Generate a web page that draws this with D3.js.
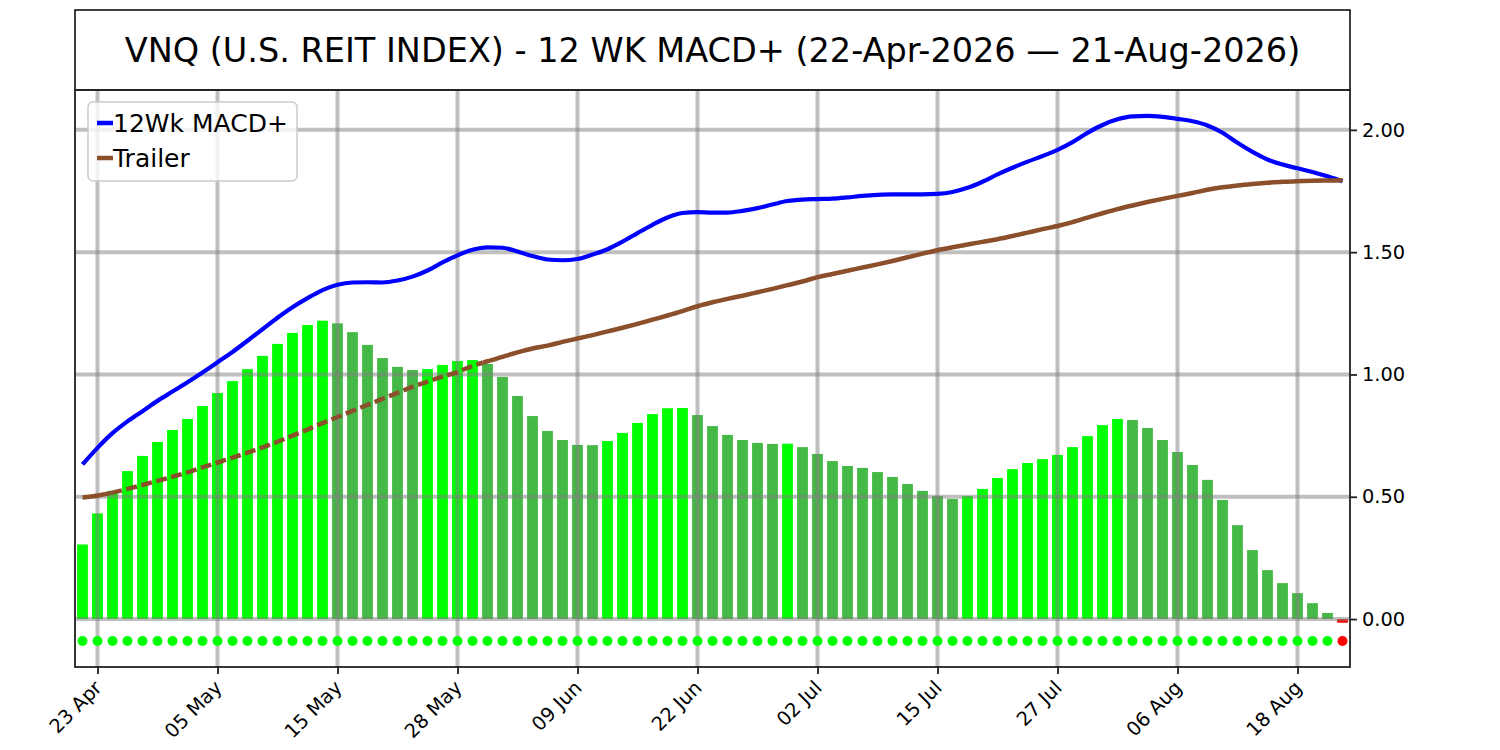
<!DOCTYPE html>
<html>
<head>
<meta charset="utf-8">
<script src="https://cdn.jsdelivr.net/npm/d3@7"></script>
<style>
    body { margin: 0; background: #fff; }
    svg { display: block; font-family: "DejaVu Sans", sans-serif; }
</style>
</head>
<body>
<svg id="chart" width="1500" height="750"></svg>
<script>
const title = "VNQ (U.S. REIT INDEX) - 12 WK MACD+ (22-Apr-2026 \u2014 21-Aug-2026)";

// bar index of each labelled trading day
const tickIdx = [1, 9, 17, 25, 33, 41, 49, 57, 65, 73, 81];
const tickLabels = ["23 Apr", "05 May", "15 May", "28 May", "09 Jun", "22 Jun",
    "02 Jul", "15 Jul", "27 Jul", "06 Aug", "18 Aug"];
const yTicks = [0, 0.5, 1.0, 1.5, 2.0];

// histogram, one bar per trading day (22 Apr .. 21 Aug)
const hist = [
    0.305, 0.432, 0.524, 0.605, 0.667, 0.724, 0.773, 0.818, 0.871, 0.924,
    0.973, 1.022, 1.076, 1.125, 1.170, 1.202, 1.220, 1.209, 1.173, 1.121,
    1.067, 1.031, 1.018, 1.022, 1.039, 1.055, 1.059, 1.043, 0.990, 0.912,
    0.830, 0.769, 0.732, 0.712, 0.711, 0.728, 0.761, 0.802, 0.838, 0.862,
    0.863, 0.834, 0.789, 0.753, 0.732, 0.720, 0.716, 0.717, 0.703, 0.675,
    0.646, 0.626, 0.618, 0.601, 0.581, 0.552, 0.524, 0.503, 0.491, 0.503,
    0.532, 0.577, 0.613, 0.638, 0.654, 0.671, 0.703, 0.748, 0.793, 0.818,
    0.814, 0.781, 0.732, 0.683, 0.630, 0.569, 0.487, 0.384, 0.282, 0.200,
    0.147, 0.106, 0.065, 0.025, -0.015
];

const macd = [
    0.632, 0.700, 0.760, 0.808, 0.850, 0.892, 0.930, 0.968, 1.008, 1.050,
    1.092, 1.138, 1.185, 1.232, 1.275, 1.312, 1.345, 1.367, 1.376, 1.377,
    1.376, 1.384, 1.400, 1.425, 1.458, 1.487, 1.510, 1.520, 1.518, 1.503,
    1.484, 1.470, 1.467, 1.472, 1.490, 1.512, 1.543, 1.578, 1.612, 1.642,
    1.660, 1.664, 1.662, 1.662, 1.669, 1.680, 1.695, 1.709, 1.715, 1.717,
    1.719, 1.724, 1.730, 1.734, 1.736, 1.736, 1.736, 1.738, 1.746, 1.763,
    1.788, 1.818, 1.845, 1.870, 1.893, 1.918, 1.950, 1.988, 2.020, 2.043,
    2.055, 2.057, 2.053, 2.045, 2.035, 2.018, 1.988, 1.947, 1.910, 1.879,
    1.858, 1.843, 1.828, 1.810, 1.790
];

const trailer = [
    0.497, 0.505, 0.517, 0.532, 0.548, 0.565, 0.582, 0.600, 0.620, 0.640,
    0.660, 0.680, 0.702, 0.725, 0.750, 0.775, 0.801, 0.826, 0.851, 0.876,
    0.900, 0.925, 0.949, 0.971, 0.991, 1.010, 1.035, 1.054, 1.072, 1.090,
    1.106, 1.118, 1.133, 1.147, 1.161, 1.176, 1.191, 1.207, 1.224, 1.241,
    1.259, 1.279, 1.295, 1.309, 1.322, 1.336, 1.350, 1.365, 1.380, 1.398,
    1.411, 1.424, 1.437, 1.450, 1.464, 1.479, 1.494, 1.508, 1.520, 1.531,
    1.542, 1.553, 1.566, 1.580, 1.594, 1.607, 1.623, 1.641, 1.659, 1.676,
    1.691, 1.705, 1.718, 1.730, 1.742, 1.755, 1.765, 1.773, 1.779, 1.784,
    1.788, 1.790, 1.792, 1.793, 1.794
];

const signalLevel = -0.09;

const plot = { left: 75, right: 1350, top: 90, bottom: 667 };

const svg = d3.select("#chart");

const x = d3.scaleLinear()
    .domain([-0.5, hist.length - 0.5])
    .range([plot.left, plot.right]);
const y = d3.scaleLinear()
    .domain([-0.196, 2.163])
    .range([plot.bottom, plot.top]);

const bright = "#00ff00", dull = "#45b945", red = "#ff0000";
const blue = "#0000ff", brown = "#8b4f2b";
function barColor(d, i) {
    if (d < 0) return red;
    if (i === 0 || d >= hist[i - 1]) return bright;
    return dull;
}

// title box
svg.append("rect")
    .attr("x", plot.left).attr("y", 10)
    .attr("width", plot.right - plot.left).attr("height", plot.top - 10)
    .attr("fill", "none").attr("stroke", "#000").attr("stroke-width", 1.5);
svg.append("text")
    .attr("x", (plot.left + plot.right) / 2).attr("y", 50)
    .attr("text-anchor", "middle").attr("dominant-baseline", "central")
    .attr("font-size", 33.5).attr("fill", "#000")
    .text(title);

const g = svg.append("g");

// bars
const bw = 10.8;
g.selectAll(".bar")
    .data(hist)
    .enter().append("rect")
        .attr("class", "bar")
        .attr("x", (d, i) => x(i) - bw / 2)
        .attr("y", d => y(Math.max(0, d)))
        .attr("width", bw)
        .attr("height", d => Math.abs(y(d) - y(0)))
        .attr("fill", barColor);

// grid on top of the bars
const grid = g.append("g")
    .attr("stroke", "#808080").attr("stroke-opacity", 0.5).attr("stroke-width", 4);
grid.selectAll(".hg")
    .data(yTicks)
    .enter().append("line")
        .attr("x1", plot.left).attr("x2", plot.right)
        .attr("y1", d => y(d)).attr("y2", d => y(d));
grid.selectAll(".vg")
    .data(tickIdx)
    .enter().append("line")
        .attr("y1", plot.top).attr("y2", plot.bottom)
        .attr("x1", d => x(d)).attr("x2", d => x(d));

// signal dots
g.selectAll(".dot")
    .data(hist)
    .enter().append("circle")
        .attr("cx", (d, i) => x(i))
        .attr("cy", y(signalLevel))
        .attr("r", 5)
        .attr("fill", d => d < 0 ? red : bright);

// lines
const line = d3.line()
    .x(d => x(d[0]))
    .y(d => y(d[1]))
    .curve(d3.curveMonotoneX);

g.append("path")
    .datum(macd.map((v, i) => [i, v]))
    .attr("d", line)
    .attr("fill", "none").attr("stroke", blue).attr("stroke-width", 4.2);

// trailer: dashed where the histogram bar rises above it
const runs = [];
let cur = null;
for (let i = 0; i < trailer.length; i++) {
    const above = hist[i] > trailer[i];
    if (cur && cur.dashed !== above) {
        const d0 = hist[i - 1] - trailer[i - 1], d1 = hist[i] - trailer[i];
        const f = d0 / (d0 - d1);
        const pt = [i - 1 + f, trailer[i - 1] + f * (trailer[i] - trailer[i - 1])];
        cur.pts.push(pt);
        runs.push(cur);
        cur = { dashed: above, pts: [pt] };
    }
    if (!cur) cur = { dashed: above, pts: [] };
    cur.pts.push([i, trailer[i]]);
}
runs.push(cur);

g.selectAll(".trailer")
    .data(runs)
    .enter().append("path")
        .attr("d", d => line(d.pts))
        .attr("fill", "none")
        .attr("stroke", brown)
        .attr("stroke-width", 4.5)
        .attr("stroke-dasharray", d => d.dashed ? "11,4.5" : null);

// axes
const yAxis = svg.append("g")
    .attr("transform", `translate(${plot.right},0)`)
    .call(d3.axisRight(y).tickValues(yTicks).tickFormat(d3.format(".2f")).tickSize(7).tickPadding(5));
const xAxis = svg.append("g")
    .attr("transform", `translate(0,${plot.bottom})`)
    .call(d3.axisBottom(x).tickValues(tickIdx).tickFormat((d, i) => tickLabels[i]).tickSize(7));

[yAxis, xAxis].forEach(a => {
    a.select(".domain").remove();
    a.selectAll("line").attr("stroke", "#222").attr("stroke-width", 1.8);
    a.selectAll("text").attr("font-size", 19.4).attr("fill", "#000")
        .attr("font-family", "DejaVu Sans, sans-serif");
});
xAxis.selectAll("text")
    .attr("x", 0).attr("y", 0).attr("dy", 0)
    .attr("text-anchor", "end")
    .attr("transform", "translate(5,22) rotate(-45)");

// plot frame
svg.append("rect")
    .attr("x", plot.left).attr("y", plot.top)
    .attr("width", plot.right - plot.left).attr("height", plot.bottom - plot.top)
    .attr("fill", "none").attr("stroke", "#222").attr("stroke-width", 1.8);

// legend
const legendItems = [
    { label: "12Wk MACD+", color: blue },
    { label: "Trailer", color: brown }
];
const legend = svg.append("g").attr("transform", "translate(88,102)");
legend.append("rect")
    .attr("width", 209).attr("height", 79).attr("rx", 5)
    .attr("fill", "#fff").attr("fill-opacity", 0.8)
    .attr("stroke", "#cccccc").attr("stroke-width", 1.5);
const li = legend.selectAll(".li")
    .data(legendItems)
    .enter().append("g")
        .attr("transform", (d, i) => `translate(0,${21 + i * 35})`);
li.append("line")
    .attr("x1", 9).attr("x2", 25)
    .attr("stroke", d => d.color).attr("stroke-width", 4.5);
li.append("text")
    .attr("x", 25).attr("dy", "0.36em")
    .attr("font-size", 25).attr("fill", "#000")
    .text(d => d.label);
</script>
</body>
</html>
